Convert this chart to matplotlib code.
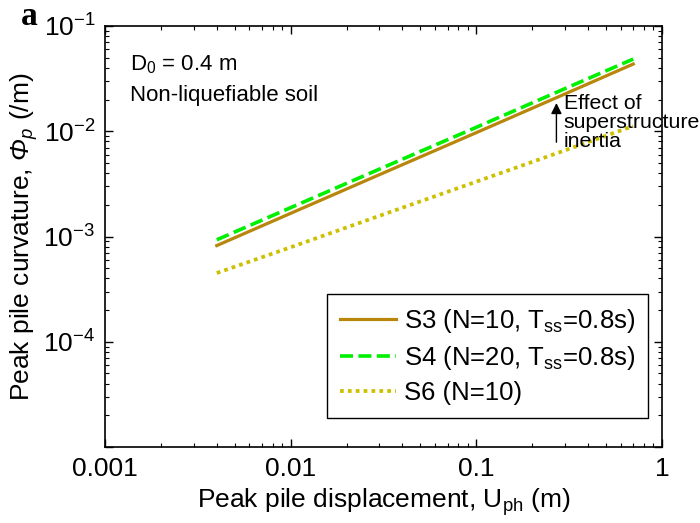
import numpy as np
import matplotlib.pyplot as plt

plt.rcParams['font.family'] = ['Liberation Sans', 'DejaVu Sans']
plt.rcParams['mathtext.fontset'] = 'custom'
plt.rcParams['mathtext.rm'] = 'Liberation Sans'
plt.rcParams['mathtext.it'] = 'Liberation Sans:italic'
# italic capital Greek (mathtext forces it upright under \mathit)
plt.rcParams['mathtext.sf'] = 'Liberation Sans:italic'

# peak pile displacement (m)
u_ph = [0.004, 0.01, 0.03, 0.1, 0.3, 0.7]
# peak pile curvature (/m)
s3 = [8.2e-4, 1.66e-3, 3.86e-3, 9.7e-3, 2.26e-2, 4.35e-2]
s4 = [9.3e-4, 1.88e-3, 4.36e-3, 1.09e-2, 2.54e-2, 4.85e-2]
s6 = [4.5e-4, 7.9e-4, 1.57e-3, 3.32e-3, 6.58e-3, 1.12e-2]

xticks = [0.001, 0.01, 0.1, 1]
xticklabels = ['0.001', '0.01', '0.1', '1']
yticks = [1e-5, 1e-4, 1e-3, 1e-2, 1e-1]
yticklabels = ['', '$10^{-4}$', '$10^{-3}$', '$10^{-2}$', '$10^{-1}$']

fig = plt.figure(figsize=(7, 5.23), dpi=100)
ax = fig.add_axes([0.15, 0.1453, 0.7957, 0.805])

ax.plot(u_ph, s3, color='#B8860B', lw=2.3, ls='-', label=r'S3 (N=10, T$_\mathrm{ss}$=0.8s)')
ax.plot(u_ph, s4, color='#00F000', lw=2.6, ls=(0, (3.6, 1.5)), label=r'S4 (N=20, T$_\mathrm{ss}$=0.8s)')
ax.plot(u_ph, s6, color='#CCC000', lw=2.7, ls=(0, (1, 1.1)), label='S6 (N=10)')

ax.set_xscale('log')
ax.set_yscale('log')
ax.set_xlim(0.001, 1)
ax.set_ylim(1e-5, 1e-1)
ax.set_xticks(xticks)
ax.set_xticklabels(xticklabels)
ax.set_yticks(yticks)
ax.set_yticklabels(yticklabels)
ax.tick_params(which='both', direction='in', top=True, right=True, labelsize=19)
ax.tick_params(which='major', length=6, width=1, pad=7)
ax.tick_params(which='minor', length=3, width=0.8)
for sp in ax.spines.values():
    sp.set_linewidth(1.2)

ax.set_xlabel(r'Peak pile displacement, U$_\mathrm{ph}$ (m)', fontsize=19, labelpad=4)
ax.set_ylabel(r'Peak pile curvature, $\mathsf{Φ}_\mathit{p}$ (/m)', fontsize=19, labelpad=2)

ax.text(0.045, 0.935, r'D$_\mathrm{0}$ = 0.4 m', transform=ax.transAxes, fontsize=16, va='top')
ax.text(0.045, 0.86, 'Non-liquefiable soil', transform=ax.transAxes, fontsize=16, va='top')

ax.annotate('', xy=(0.27, 0.0197), xytext=(0.27, 0.0074),
            arrowprops=dict(arrowstyle='-|>', color='black', lw=1, mutation_scale=16))
ax.text(0.295, 0.0225, 'Effect of\nsuperstructure\ninertia', fontsize=15.3,
        va='top', ha='left', linespacing=1.0, clip_on=False)

leg = ax.legend(loc='lower right', bbox_to_anchor=(0.975, 0.069), fontsize=18.5,
                frameon=True, fancybox=False, edgecolor='black', framealpha=1,
                handlelength=2.2, borderaxespad=0, labelspacing=0.35,
                handletextpad=0.3, borderpad=0.5)
leg.get_frame().set_linewidth(1)

fig.text(0.03, 0.952, 'a', fontsize=24, fontweight='bold', family='Liberation Serif')

fig.savefig('out.png', dpi=100)
